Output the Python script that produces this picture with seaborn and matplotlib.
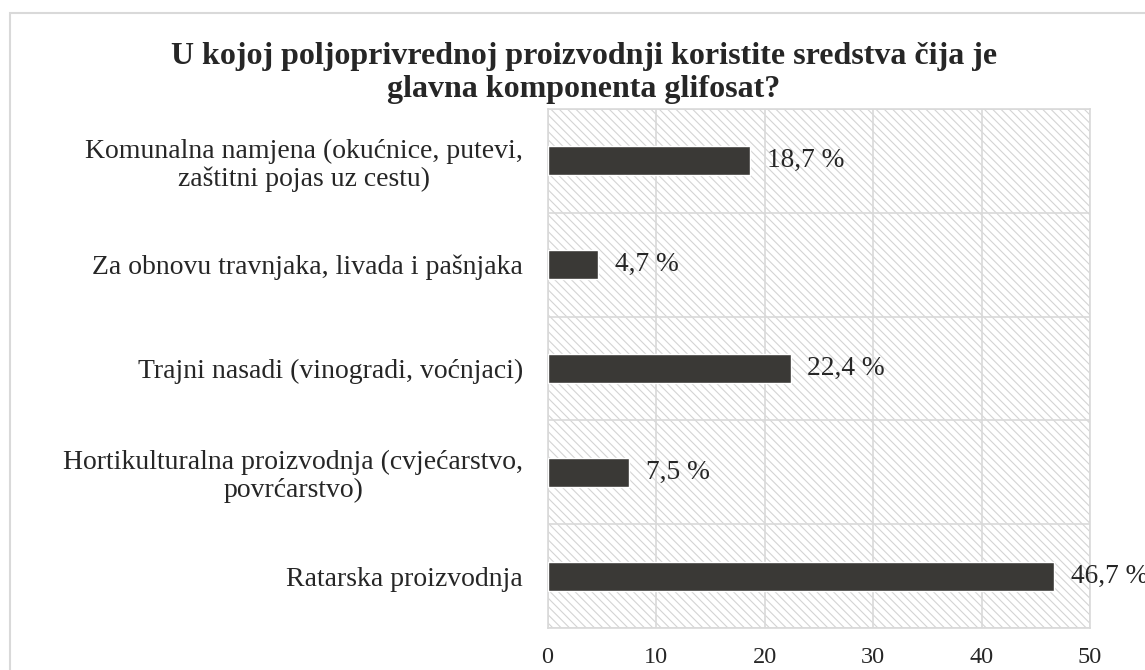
import matplotlib
matplotlib.use('Agg')
import matplotlib.pyplot as plt
import seaborn as sns
import pandas as pd
from matplotlib.patches import Rectangle

# categories (top to bottom) and shares in %
categories = [
    'Komunalna namjena (okućnice, putevi,\nzaštitni pojas uz cestu)',
    'Za obnovu travnjaka, livada i pašnjaka',
    'Trajni nasadi (vinogradi, voćnjaci)',
    'Hortikulturalna proizvodnja (cvjećarstvo,\npovrćarstvo)',
    'Ratarska proizvodnja',
]
values = [18.7, 4.7, 22.4, 7.5, 46.7]
x_ticks = [0, 10, 20, 30, 40, 50]
title = 'U kojoj poljoprivrednoj proizvodnji koristite sredstva čija je\nglavna komponenta glifosat?'

sns.set_theme(style='white')
plt.rcParams['font.family'] = ['Liberation Serif', 'DejaVu Serif']
plt.rcParams['hatch.linewidth'] = 0.8

grid_col = '#d9d9d9'
text_col = '#262626'

df = pd.DataFrame({'cat': categories, 'val': values})

fig = plt.figure(figsize=(11.45, 6.7), dpi=100)
ax = fig.add_axes([547.5 / 1145, 1 - 628 / 670, 542.5 / 1145, 519 / 670])

# outer chart border
fig.patches.append(Rectangle((10 / 1145, -0.05), 1.2, 1 - 13 / 670 + 0.05,
                             transform=fig.transFigure, fill=False,
                             edgecolor=grid_col, linewidth=1.5))

# hatched plot background
ax.add_patch(Rectangle((0, 0), 1, 1, transform=ax.transAxes, facecolor='white',
                       edgecolor='#d4d4d4', hatch='\\\\\\\\', linewidth=0, zorder=0))

sns.barplot(data=df, x='val', y='cat', orient='h', color='#3a3936',
            width=0.28, saturation=1, ax=ax, zorder=3)

ax.set_xlim(0, 50)
ax.set_ylim(len(categories) - 0.5, -0.5)
ax.set_xticks(x_ticks)
ax.set_xticklabels([str(t) for t in x_ticks], fontsize=17.5, color=text_col)
ax.set_yticks(range(len(categories)))
ax.set_yticklabels(categories, fontsize=20, color=text_col)
for lab in ax.get_yticklabels():
    lab.set_multialignment('center')
    lab.set_linespacing(1.15)
ax.set_yticks([i - 0.5 for i in range(len(categories) + 1)], minor=True)
ax.tick_params(axis='y', which='major', length=0, pad=17.5)
ax.tick_params(axis='y', which='minor', length=6, color=grid_col, width=1.2)
ax.tick_params(axis='x', length=0, pad=14)
ax.set_xlabel('')
ax.set_ylabel('')

ax.grid(axis='x', color=grid_col, linewidth=1.2, zorder=1)
ax.grid(axis='y', which='minor', color=grid_col, linewidth=1.2, zorder=1)
ax.set_axisbelow(True)
for s in ax.spines.values():
    s.set_color(grid_col)
    s.set_linewidth(1.2)

for i, v in enumerate(values):
    ax.annotate(f'{v:.1f} %'.replace('.', ','), (v, i), xytext=(12, 0),
                textcoords='offset points', va='center', ha='left',
                fontsize=19.7, color=text_col, annotation_clip=False)

fig.text(0.51, 0.891, title, ha='center', va='center', fontsize=23,
         fontweight='bold', color=text_col, linespacing=1.22)

fig.savefig('out.png', dpi=100)
